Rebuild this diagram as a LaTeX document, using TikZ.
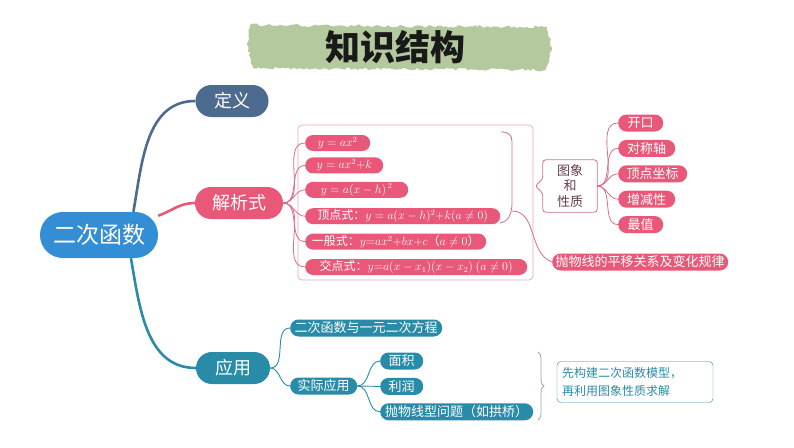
\documentclass[tikz,border=0pt]{standalone}
\usepackage{amsmath}
\usepackage{fontspec}
\newfontfamily\cjk{Noto Sans CJK SC}
\usepackage{tikz}
\usetikzlibrary{positioning}
\usetikzlibrary{decorations.pathmorphing}
\usetikzlibrary{decorations.pathreplacing}
\definecolor{rootblue}{RGB}{52,142,214}
\definecolor{defblue}{RGB}{77,106,143}
\definecolor{jxpink}{RGB}{233,88,120}
\definecolor{linepink}{RGB}{214,110,140}
\definecolor{boxpink}{RGB}{236,165,185}
\definecolor{yyteal}{RGB}{40,139,168}
\definecolor{bracegray}{RGB}{150,170,182}
\definecolor{brushgreen}{RGB}{181,201,158}
\definecolor{xztext}{RGB}{100,62,78}

\begin{document}
\begin{tikzpicture}[x=1pt,y=1pt,
	rootpill/.style={fill=rootblue, text=white, rounded corners=22.9pt, minimum height=46pt, minimum width=118pt, inner sep=0pt, font=\cjk\fontsize{23}{23}\selectfont},
	mainpill/.style={fill=#1, text=white, rounded corners=15.9pt, minimum height=32pt, inner sep=0pt, font=\cjk\fontsize{18}{18}\selectfont},
	fpill/.style={fill=jxpink, text=white, rounded corners=7.9pt, minimum height=16pt, minimum width=#1, inner xsep=3pt, inner ysep=0pt, font=\cjk\fontsize{12}{12}\selectfont},
	tpill/.style={fill=jxpink, text=white, rounded corners=8.4pt, minimum height=17pt, minimum width=#1, inner xsep=3pt, inner ysep=0pt, font=\cjk\fontsize{13}{13}\selectfont},
	ypill/.style={fill=yyteal, text=white, rounded corners=8.4pt, minimum height=17pt, minimum width=#1, inner xsep=3pt, inner ysep=0pt, font=\cjk\fontsize{13}{13}\selectfont},
	trunk/.style={draw=#1, line width=2.6pt},
	pinkline/.style={draw=linepink, line width=0.8pt},
	tealline/.style={draw=yyteal, line width=0.9pt}]
	
	\useasboundingbox (0,0) rectangle (794,-447);
	
	\fill[brushgreen, decorate, decoration={random steps,segment length=3pt,amplitude=1.5pt}] (250,-25) -- (547,-27) -- (552,-48) -- (546,-70) -- (253,-68) -- (248,-46) -- cycle;
	\node[font=\cjk\bfseries\fontsize{35}{35}\selectfont, text=black!90] at (395,-47) (0title) {知识结构};
	
	\node[rootpill] at (99,-235) (1root) {二次函数};
	\node[mainpill=defblue, minimum width=73pt] at (232,-101) (2def) {定义};
	\node[mainpill=jxpink, minimum width=88pt] at (239,-203) (2jxs) {解析式};
	\node[mainpill=yyteal, minimum width=74pt] at (233,-368) (2yy) {应用};
	
	\draw[boxpink, line width=0.7pt, rounded corners=4pt] (298,-125) rectangle (533,-280);
	\node[fpill=65pt, anchor=west] at (305,-143) (3f1) {$y=ax^2$};
	\node[fpill=78pt, below=6pt of 3f1.south west, anchor=north west] (3f2) {$y=ax^2{+}k$};
	\node[fpill=103pt, below=8pt of 3f2.south west, anchor=north west] (3f3) {$y=a(x-h)^{\,2}$};
	\node[fpill=195pt, below=10pt of 3f3.south west, anchor=north west] (3f4) {顶点式：$y=a(x-h)^2{+}k(a\neq0)$};
	\node[fpill=181pt, below=9pt of 3f4.south west, anchor=north west] (3f5) {一般式：$y{=}ax^2{+}bx{+}c$（$a\neq0$）};
	\node[fpill=222pt, below=9pt of 3f5.south west, anchor=north west] (3f6) {交点式：$y{=}a(x-x_1)(x-x_2)\ (a\neq0)$};
	
	\draw[pinkline] (501,-132) .. controls (509,-132) and (512,-135) .. (512,-142) -- (512,-203) .. controls (512,-214) and (508,-222) .. (500,-223);
	\coordinate (3brk) at (512,-211);
	
	\node[text=xztext, align=center, minimum width=54pt, minimum height=52pt, inner sep=0pt, font=\cjk\fontsize{13}{15.5}\selectfont] at (570,-186) (4xz) {图象\\和\\性质};
	\coordinate (4xztip) at (535,-186);
	\draw[pinkline, rounded corners=3pt] (4xz.north) -- (4xz.north east) -- (4xz.south east) -- (4xz.south west) -- ([yshift=-7pt]4xz.west) -- (4xztip) -- ([yshift=7pt]4xz.west) -- (4xz.north west) -- (4xz.north);
	
	\node[tpill=45pt, anchor=west] at (618,-123) (5open) {开口};
	\node[tpill=57pt, below=8pt of 5open.south west, anchor=north west] (5axis) {对称轴};
	\node[tpill=69pt, below=8pt of 5axis.south west, anchor=north west] (5vtx) {顶点坐标};
	\node[tpill=57pt, below=8pt of 5vtx.south west, anchor=north west] (5mono) {增减性};
	\node[tpill=45pt, below=8pt of 5mono.south west, anchor=north west] (5max) {最值};
	\node[tpill=176pt, anchor=west] at (552,-262) (4pwy) {抛物线的平移关系及变化规律};
	
	\node[ypill=152pt, anchor=west] at (290,-328) (3yy1) {二次函数与一元二次方程};
	\node[ypill=67pt, anchor=west] at (290,-386) (3yy2) {实际应用};
	\node[ypill=43pt, anchor=west] at (380,-361) (4mj) {面积};
	\node[ypill=43pt, below=8pt of 4mj.south west, anchor=north west] (4lr) {利润};
	\node[ypill=153pt, below=8pt of 4lr.south west, anchor=north west] (4gq) {抛物线型问题（如拱桥）};
	\draw[bracegray, line width=0.8pt, decorate, decoration={brace,amplitude=6pt}] (538,-352) -- (538,-420);
	\node[draw=yyteal, rounded corners=4pt, text=yyteal, align=left, text width=146pt, minimum height=41pt, inner xsep=5pt, inner ysep=2pt, font=\cjk\fontsize{12}{18}\selectfont] at (635,-382) (5model) {先构建二次函数模型，\\再利用图象性质求解};
	
	\draw[trunk=defblue] (1root.34) to[out=80,in=180] (2def.west);
	\draw[trunk=jxpink] (1root.18) to[out=20,in=180] (2jxs.west);
	\draw[trunk=yyteal] (1root.-36) to[out=-80,in=180] (2yy.west);
	
	\draw[pinkline] (2jxs.east) to[out=0,in=180] (3f1.west); \draw[pinkline] (2jxs.east) to[out=0,in=180] (3f2.west); \draw[pinkline] (2jxs.east) to[out=0,in=180] (3f3.west);
	\draw[pinkline] (2jxs.east) to[out=0,in=180] (3f4.west); \draw[pinkline] (2jxs.east) to[out=0,in=180] (3f5.west); \draw[pinkline] (2jxs.east) to[out=0,in=180] (3f6.west);
	\draw[pinkline] (3brk) to[out=0,in=160] (4pwy.west);
	\draw[pinkline] (4xz.east) to[out=0,in=180] (5open.west); \draw[pinkline] (4xz.east) to[out=0,in=180] (5axis.west); \draw[pinkline] (4xz.east) to[out=0,in=180] (5vtx.west);
	\draw[pinkline] (4xz.east) to[out=0,in=180] (5mono.west); \draw[pinkline] (4xz.east) to[out=0,in=180] (5max.west);
	
	\draw[tealline] (2yy.east) to[out=0,in=180] (3yy1.west); \draw[tealline] (2yy.east) to[out=0,in=180] (3yy2.west);
	\draw[tealline] (3yy2.east) to[out=0,in=180] (4mj.west); \draw[tealline] (3yy2.east) -- (4lr.west); \draw[tealline] (3yy2.east) to[out=0,in=180] (4gq.west);
	
\end{tikzpicture}
\end{document}
